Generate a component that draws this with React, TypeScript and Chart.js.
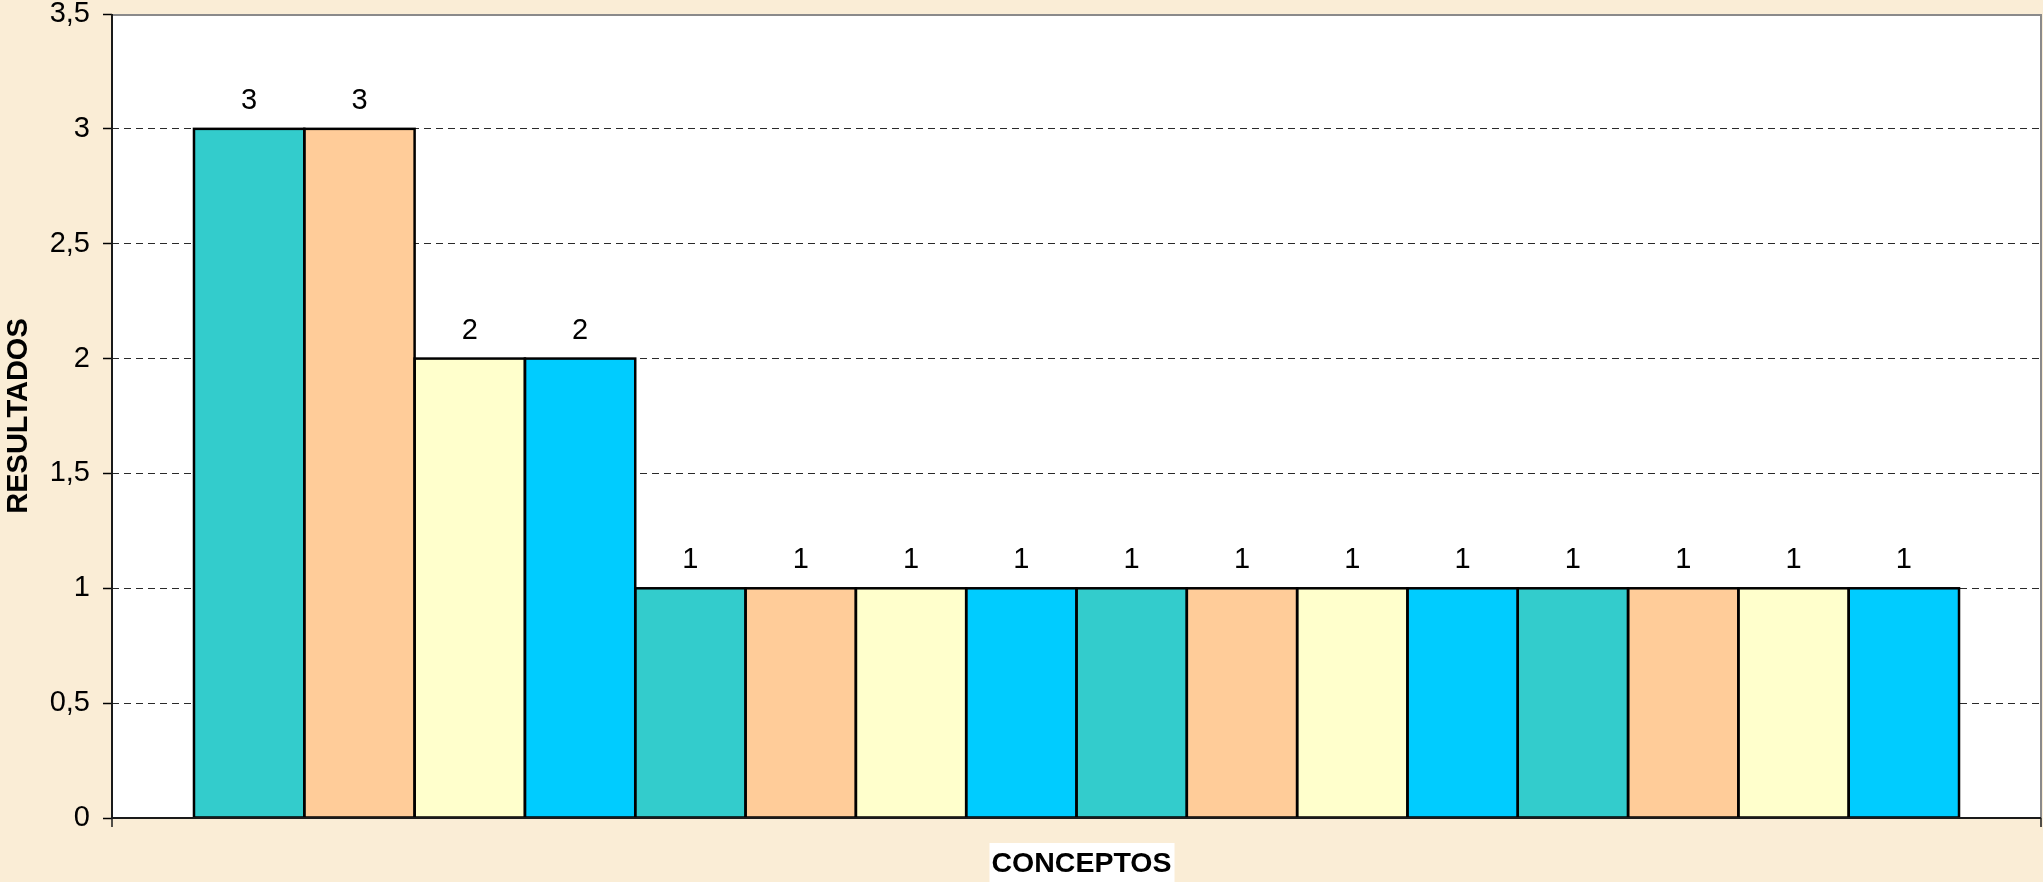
import React, { useEffect, useRef } from "react";
import { Chart, registerables } from "chart.js";

Chart.register(...registerables);

// ---- data ----
const seriesNames = [
  "Concepto 1", "Concepto 2", "Concepto 3", "Concepto 4",
  "Concepto 5", "Concepto 6", "Concepto 7", "Concepto 8",
  "Concepto 9", "Concepto 10", "Concepto 11", "Concepto 12",
  "Concepto 13", "Concepto 14", "Concepto 15", "Concepto 16",
];
const values = [3, 3, 2, 2, 1, 1, 1, 1, 1, 1, 1, 1, 1, 1, 1, 1];
const palette = ["#33CCCC", "#FFCC99", "#FFFFCC", "#00CCFF"];
const yMin = 0;
const yMax = 3.5;
const yStep = 0.5;
const yTitle = "RESULTADOS";
const xTitle = "CONCEPTOS";

const FONT = '"Liberation Sans", Arial, Helvetica, sans-serif';

const backgroundPlugin = {
  id: "bgPlugin",
  beforeDraw(chart: any) {
    const { ctx, chartArea } = chart;
    ctx.save();
    ctx.fillStyle = "#FAEDD6";
    ctx.fillRect(0, 0, chart.width, chart.height);
    ctx.fillStyle = "#FFFFFF";
    ctx.fillRect(chartArea.left, chartArea.top, chartArea.right - chartArea.left, chartArea.bottom - chartArea.top);
    ctx.restore();
  },
};

const overlayPlugin = {
  id: "overlayPlugin",
  afterDatasetsDraw(chart: any) {
    const { ctx, chartArea } = chart;
    const { left, right, top, bottom } = chartArea;
    ctx.save();
    // bar outlines (centered strokes like the original)
    ctx.strokeStyle = "#000";
    ctx.lineWidth = 2.5;
    values.forEach((_, i) => {
      const meta = chart.getDatasetMeta(i);
      const el = meta.data[0];
      if (!el) return;
      const p = el.getProps(["x", "y", "base", "width"], true);
      ctx.strokeRect(p.x - p.width / 2, p.y, p.width, p.base - p.y);
    });
    // plot frame
    ctx.lineWidth = 2;
    ctx.strokeStyle = "#8A8A8A";
    ctx.beginPath();
    ctx.moveTo(left, top + 1);
    ctx.lineTo(right, top + 1);
    ctx.moveTo(right, top);
    ctx.lineTo(right, bottom);
    ctx.stroke();
    ctx.strokeStyle = "#1A1A1A";
    ctx.beginPath();
    ctx.moveTo(left, top);
    ctx.lineTo(left, bottom + 1);
    ctx.moveTo(left, bottom);
    ctx.lineTo(right, bottom);
    ctx.stroke();
    // x-axis end tick marks
    ctx.lineWidth = 1.5;
    ctx.beginPath();
    ctx.moveTo(left, bottom);
    ctx.lineTo(left, bottom + 9);
    ctx.moveTo(right, bottom);
    ctx.lineTo(right, bottom + 9);
    ctx.stroke();
    // value labels
    ctx.fillStyle = "#000";
    ctx.font = `29px ${FONT}`;
    ctx.textAlign = "center";
    ctx.textBaseline = "alphabetic";
    values.forEach((v, i) => {
      const el = chart.getDatasetMeta(i).data[0];
      if (!el) return;
      ctx.fillText(String(v).replace(".", ","), el.x, el.y - 20);
    });
    // y title
    ctx.font = `bold 29px ${FONT}`;
    ctx.save();
    ctx.translate(19, (top + bottom) / 2);
    ctx.rotate(-Math.PI / 2);
    ctx.textAlign = "center";
    ctx.textBaseline = "middle";
    ctx.fillText(yTitle, 0, 0);
    ctx.restore();
    // x title with white box
    ctx.font = `bold 28.5px ${FONT}`;
    const tw = ctx.measureText(xTitle).width;
    const cx = (left + right) / 2 + 5;
    ctx.fillStyle = "#FFFFFF";
    ctx.fillRect(cx - tw / 2 - 2, bottom + 25, tw + 5, 60);
    ctx.fillStyle = "#000";
    ctx.textAlign = "center";
    ctx.textBaseline = "alphabetic";
    ctx.fillText(xTitle, cx, bottom + 54);
    ctx.restore();
  },
};

export default function App() {
  const ref = useRef<HTMLCanvasElement>(null);
  useEffect(() => {
    document.body.style.margin = "0";
    const chart = new Chart(ref.current as HTMLCanvasElement, {
      type: "bar",
      data: {
        labels: [""],
        datasets: values.map((v, i) => ({
          label: seriesNames[i],
          data: [v],
          backgroundColor: palette[i % palette.length],
          borderWidth: 0,
          categoryPercentage: 0.915,
          barPercentage: 1,
        })),
      },
      options: {
        responsive: false,
        animation: false,
        devicePixelRatio: 1,
        layout: { padding: { top: 14, right: 2, bottom: 64, left: 0 } },
        plugins: {
          legend: { display: false },
          tooltip: { enabled: false },
          title: { display: false },
        },
        scales: {
          x: {
            display: true,
            grid: { display: false },
            border: { display: false },
            ticks: { display: false },
            afterFit: (s: any) => {
              s.height = 0;
              s.paddingLeft = 0;
              s.paddingRight = 0;
            },
          },
          y: {
            min: yMin,
            max: yMax,
            ticks: {
              stepSize: yStep,
              padding: 13,
              color: "#000",
              font: { family: FONT, size: 29 },
              callback: (v: any) => String(v).replace(".", ","),
            },
            grid: {
              color: (c: any) =>
                c.tick && (c.tick.value === yMin || c.tick.value === yMax) ? "rgba(0,0,0,0)" : "#2A2A2A",
              lineWidth: 1,
              tickLength: 9,
              tickColor: "#000",
              tickWidth: 1.5,
            },
            border: { display: false, dash: [7, 5] },
            afterFit: (s: any) => {
              s.width = 112;
              s.paddingTop = 0;
              s.paddingBottom = 0;
            },
          },
        },
      },
      plugins: [backgroundPlugin, overlayPlugin],
    } as any);
    return () => chart.destroy();
  }, []);
  return (
    <div style={{ position: "absolute", left: 0, top: 0, width: 2043, height: 882 }}>
      <canvas ref={ref} width={2043} height={882} style={{ display: "block", width: 2043, height: 882 }} />
    </div>
  );
}
